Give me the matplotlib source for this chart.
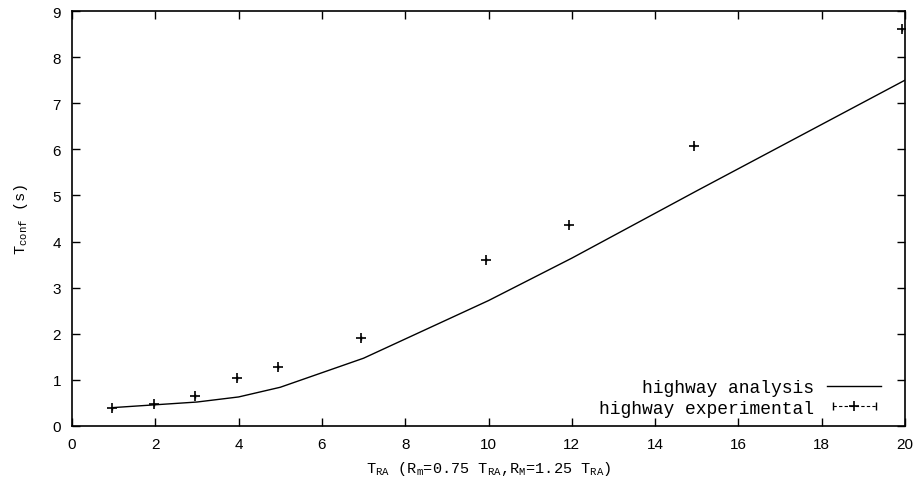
import matplotlib
matplotlib.use("Agg")
import matplotlib.pyplot as plt
from matplotlib.lines import Line2D
from matplotlib.legend_handler import HandlerLine2D, HandlerTuple

plt.rcParams["mathtext.fontset"] = "custom"
plt.rcParams["mathtext.rm"] = "Liberation Mono"
plt.rcParams["mathtext.it"] = "Liberation Mono"

# analysis curve
x_analysis = [1, 2, 3, 4, 5, 7, 10, 12, 15, 20]
y_analysis = [0.40, 0.46, 0.52, 0.63, 0.84, 1.47, 2.72, 3.64, 5.10, 7.50]

# experimental points
x_exp = [0.96, 1.97, 2.96, 3.95, 4.95, 6.95, 9.94, 11.94, 14.93, 19.93]
y_exp = [0.38, 0.47, 0.65, 1.04, 1.28, 1.91, 3.61, 4.36, 6.08, 8.60]
y_err = [0.03, 0.03, 0.04, 0.04, 0.04, 0.04, 0.03, 0.03, 0.04, 0.03]

x_ticks = [0, 2, 4, 6, 8, 10, 12, 14, 16, 18, 20]
y_ticks = [0, 1, 2, 3, 4, 5, 6, 7, 8, 9]

mono = "Liberation Mono"
sans = "Liberation Sans"

fig = plt.figure(figsize=(9.2, 4.89), dpi=100)
ax = fig.add_axes([72/920, 62/489, 833/920, 415/489])

line_an, = ax.plot(x_analysis, y_analysis, color="black", lw=1.0)
ax.errorbar(x_exp, y_exp, yerr=y_err, fmt="+", color="black", ms=6.5, mew=1.2,
            elinewidth=1.0, capsize=0, ls="none")

ax.set_xlim(0, 20)
ax.set_ylim(0, 9)
ax.set_xticks(x_ticks)
ax.set_yticks(y_ticks)
ax.tick_params(direction="in", top=True, right=True, length=6, width=1,
               labelsize=11, pad=8)
for lab in ax.get_xticklabels() + ax.get_yticklabels():
    lab.set_fontfamily(sans)
for s in ax.spines.values():
    s.set_linewidth(1.2)

ax.set_xlabel(r"T$_{\mathregular{RA}}$ (R$_{\mathregular{m}}$=0.75 T$_{\mathregular{RA}}$,R$_{\mathregular{M}}$=1.25 T$_{\mathregular{RA}}$)",
              fontfamily=mono, fontsize=11, labelpad=6)
ax.set_ylabel(r"T$_{\mathregular{conf}}$ (s)", fontfamily=mono, fontsize=11, labelpad=16)

# legend proxies
caps_proxy = Line2D([], [], color="black", ls=(0, (3, 2)), lw=0.8,
                    marker="|", ms=6, mew=1.0)
plus_proxy = Line2D([], [], color="black", ls="none", marker="+", ms=6.5, mew=1.2)
an_proxy = Line2D([], [], color="black", lw=1.0)

leg = ax.legend([an_proxy, (caps_proxy, plus_proxy)],
                ["highway analysis", "highway experimental"],
                handler_map={caps_proxy: HandlerLine2D(numpoints=2),
                             plus_proxy: HandlerLine2D(numpoints=1),
                             tuple: HandlerTuple(ndivide=1, pad=0)},
                loc="lower right", frameon=False, markerfirst=False,
                prop={"family": mono, "size": 13}, handlelength=3.0,
                labelspacing=0.2, handletextpad=0.7,
                bbox_to_anchor=(0.991, -0.017))

fig.savefig("out.png", dpi=100)
